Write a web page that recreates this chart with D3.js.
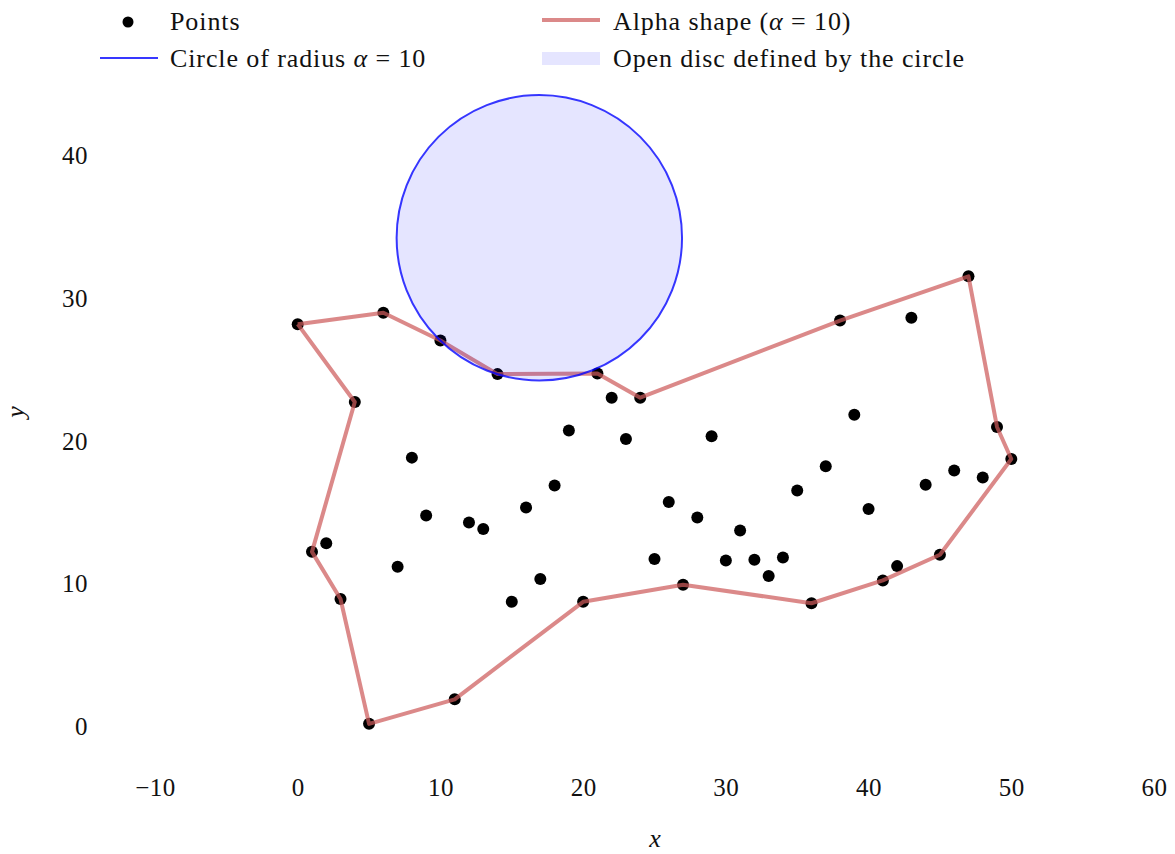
<!DOCTYPE html>
<html>
<head>
<meta charset="utf-8">
<script src="https://cdn.jsdelivr.net/npm/d3@7"></script>
<style>
  body { margin: 0; background: #fff; }
  svg text { font-family: "Liberation Serif", "DejaVu Serif", serif; fill: #111; }
</style>
</head>
<body>
<svg id="chart"></svg>
<script>
// point cloud, one point per integer x
var xs = [0,1,2,3,4,5,6,7,8,9,10,11,12,13,14,15,16,17,18,19,20,21,22,23,24,25,
          26,27,28,29,30,31,32,33,34,35,36,37,38,39,40,41,42,43,44,45,46,47,48,49,50];
var ys = [28.15,12.2,12.8,8.9,22.7,0.15,28.95,11.15,18.8,14.75,27.0,1.87,14.25,13.8,24.65,8.7,
          15.3,10.3,16.85,20.7,8.7,24.7,23.0,20.1,23.0,11.7,15.7,9.9,14.6,20.3,11.6,13.7,11.65,
          10.5,11.8,16.5,8.6,18.2,28.4,21.8,15.2,10.2,11.2,28.6,16.9,12.0,17.9,31.5,17.4,20.95,18.7];

// alpha shape boundary, as indices into the point arrays
var hull = [0,6,10,14,21,24,38,47,49,50,45,41,36,27,20,11,5,3,1,4,0];

// circle of radius alpha
var alpha = 10;
var circleCenter = [16.93, 34.2];

var xTicks = [-10,0,10,20,30,40,50,60];
var yTicks = [0,10,20,30,40];

var w = 1175, h = 854;
var svg = d3.select("#chart").attr("width", w).attr("height", h);

var x = d3.scaleLinear().domain([-10, 60]).range([155, 1154]);
var y = d3.scaleLinear().domain([0, 40]).range([726, 155]);

var pts = xs.map(function(d, i) { return [d, ys[i]]; });

var xAxis = d3.axisBottom(x).tickValues(xTicks).tickSize(0).tickPadding(0);
var gx = svg.append("g").attr("transform", "translate(0,796)").call(xAxis);
gx.select(".domain").remove();
gx.selectAll("text").attr("font-size", 25).attr("dy", 0).attr("fill", "#111")
  .style("font-family", "Liberation Serif").style("letter-spacing", "0.5px");

var yAxis = d3.axisLeft(y).tickValues(yTicks).tickSize(0).tickPadding(0);
var gy = svg.append("g").attr("transform", "translate(88,0)").call(yAxis);
gy.select(".domain").remove();
gy.selectAll("text").attr("font-size", 25).attr("dy", "0.34em").attr("fill", "#111")
  .style("font-family", "Liberation Serif").style("letter-spacing", "0.5px");

svg.append("text").attr("x", 655).attr("y", 847).attr("text-anchor", "middle")
   .attr("font-size", 26).attr("font-style", "italic").text("x");
svg.append("text").attr("transform", "translate(24,412) rotate(-90)").attr("text-anchor", "middle")
   .attr("font-size", 26).attr("font-style", "italic").text("y");

// points
svg.append("g").selectAll("circle")
   .data(pts).enter().append("circle")
   .attr("cx", function(d) { return x(d[0]); })
   .attr("cy", function(d) { return y(d[1]); })
   .attr("r", 6)
   .attr("fill", "#000");

// alpha shape
var line = d3.line().x(function(d) { return x(d[0]); }).y(function(d) { return y(d[1]); });
svg.append("path")
   .datum(hull.map(function(i) { return pts[i]; }))
   .attr("d", line)
   .attr("fill", "none")
   .attr("stroke", "#cd5c5c")
   .attr("stroke-opacity", 0.72)
   .attr("stroke-width", 4)
   .attr("stroke-linejoin", "round");

// disc + circle
var rpx = x(alpha) - x(0);
svg.append("circle")
   .attr("cx", x(circleCenter[0])).attr("cy", y(circleCenter[1])).attr("r", rpx)
   .attr("fill", "blue").attr("fill-opacity", 0.1)
   .attr("stroke", "blue").attr("stroke-opacity", 0.78).attr("stroke-width", 2);

// legend
var leg = svg.append("g").attr("font-size", 26).style("letter-spacing", "0.9px");
leg.append("circle").attr("cx", 128).attr("cy", 22).attr("r", 5.5).attr("fill", "#000");
leg.append("text").attr("x", 170).attr("y", 30).text("Points");
leg.append("line").attr("x1", 100).attr("x2", 158).attr("y1", 58).attr("y2", 58)
   .attr("stroke", "blue").attr("stroke-opacity", 0.78).attr("stroke-width", 1.8);
var t2 = leg.append("text").attr("x", 170).attr("y", 67);
t2.append("tspan").text("Circle of radius ");
t2.append("tspan").attr("font-style", "italic").text("α");
t2.append("tspan").text(" = 10");

leg.append("line").attr("x1", 542).attr("x2", 600).attr("y1", 20).attr("y2", 20)
   .attr("stroke", "#cd5c5c").attr("stroke-opacity", 0.72).attr("stroke-width", 4);
var t3 = leg.append("text").attr("x", 613).attr("y", 30);
t3.append("tspan").text("Alpha shape (");
t3.append("tspan").attr("font-style", "italic").text("α");
t3.append("tspan").text(" = 10)");
leg.append("rect").attr("x", 542).attr("y", 52).attr("width", 58).attr("height", 13)
   .attr("fill", "blue").attr("fill-opacity", 0.1);
leg.append("text").attr("x", 613).attr("y", 67).text("Open disc defined by the circle");
</script>
</body>
</html>
